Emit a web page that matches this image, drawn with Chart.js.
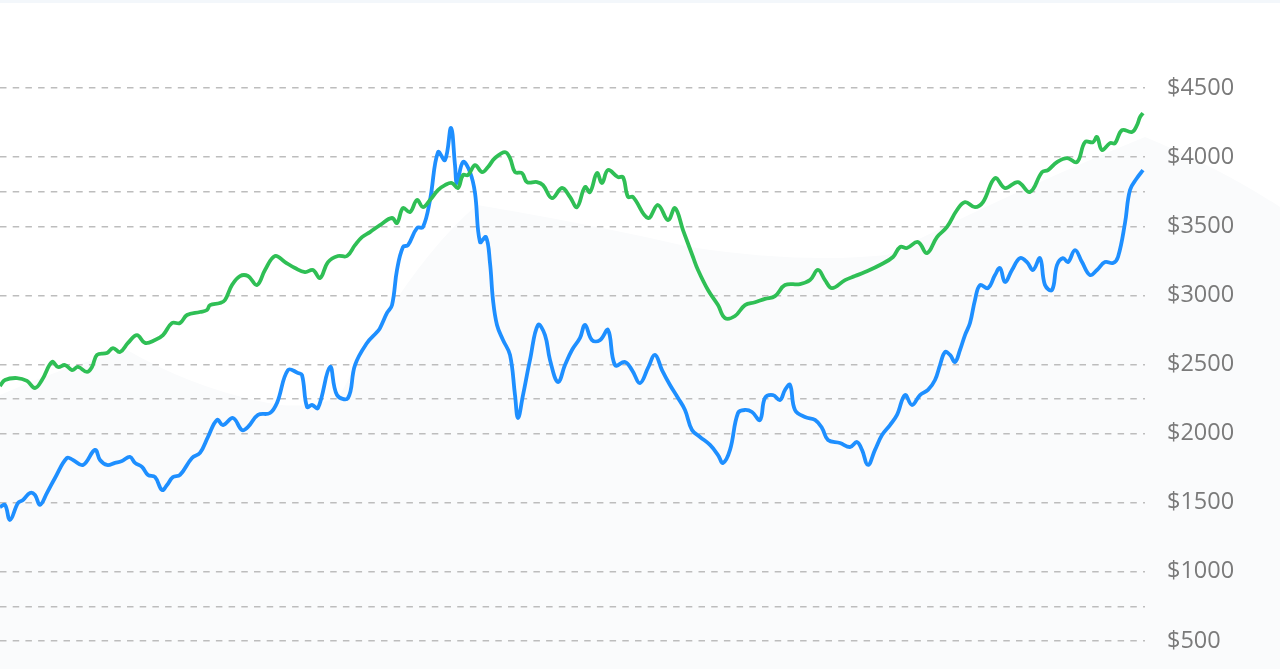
<!DOCTYPE html>
<html>
<head>
<meta charset="utf-8">
<script src="https://cdn.jsdelivr.net/npm/chart.js@4/dist/chart.umd.min.js"></script>
<style>
    html, body { margin: 0; padding: 0; background: #fff; overflow: hidden; }
    .topbar { position: absolute; left: 0; top: 0; width: 1280px; height: 3px; background: #f3f7fb; z-index: 2; }
    .backdrop { position: absolute; left: 0; top: 0; }
    .wrap { position: absolute; left: 0; top: 0; width: 1280px; height: 710px; }
</style>
</head>
<body>
<div class="topbar"></div>
<svg class="backdrop" width="1280" height="669">
    <path d="M0,395 Q60,368 127,350 Q200,392 280,405 Q320,408 340,395 Q410,262 477,205 Q590,224 690,247 Q800,264 887,255 Q1020,188 1145,137 Q1220,168 1280,207 L1280,669 L0,669 Z" fill="#fafbfc"/>
</svg>
<div class="wrap"><canvas id="priceChart"></canvas></div>
<script>
// trading day index and closing value
const greenDays = [0, 5, 17, 27, 35, 42, 52, 58, 65, 72, 78, 87, 92, 97, 107, 113, 120, 128, 137, 145, 155, 163, 172, 180, 187, 200, 207, 210, 220, 225,
    232, 240, 248, 257, 265, 275, 285, 295, 305, 313, 320, 328, 338, 347, 355, 362, 370, 380, 392, 397, 403, 410, 417, 423, 430, 438, 445, 452, 458,
    463, 468, 475, 482, 488, 495, 505, 510, 515, 522, 527, 537, 543, 552, 562, 570, 577, 585, 590, 597, 602, 608, 618, 623, 628, 633, 648, 658, 668,
    675, 683, 693, 698, 708, 718, 725, 735, 745, 755, 765, 775, 785, 800, 810, 818, 825, 832, 845, 855, 865, 880, 893, 900, 907, 918, 927, 937, 947,
    957, 965, 975, 983, 995, 1005, 1018, 1030, 1042, 1048, 1057, 1067, 1077, 1085, 1093, 1097, 1102, 1110, 1115, 1122, 1132, 1137, 1140, 1143];
const greenValues = [2345, 2388, 2402, 2381, 2330, 2388, 2518, 2482, 2496, 2460, 2482, 2446, 2482, 2569, 2583, 2619, 2590, 2656, 2713, 2656, 2677, 2713, 2800, 2800, 2858, 2880, 2894, 2930, 2945, 2967,
    3075, 3140, 3140, 3075, 3184, 3285, 3241, 3198, 3169, 3184, 3126, 3241, 3285, 3285, 3364, 3422, 3458, 3509, 3560, 3524, 3632, 3603, 3690, 3639, 3690, 3762, 3798, 3813, 3777,
    3871, 3871, 3943, 3892, 3929, 3994, 4037, 3994, 3892, 3885, 3820, 3820, 3798, 3704, 3777, 3712, 3639, 3784, 3748, 3885, 3813, 3907, 3856, 3856, 3712, 3712, 3560, 3654, 3545,
    3632, 3473, 3278, 3184, 3039, 2930, 2836, 2851, 2930, 2950, 2975, 2995, 3075, 3082, 3111, 3184, 3111, 3053, 3111, 3140, 3169, 3220, 3278, 3350, 3343, 3386, 3306, 3422, 3495,
    3618, 3675, 3639, 3675, 3849, 3777, 3820, 3748, 3892, 3907, 3965, 3994, 3965, 4109, 4109, 4146, 4052, 4102, 4102, 4196, 4182, 4232, 4290, 4319];

const blueDays = [0, 5, 10, 18, 23, 30, 35, 40, 47, 55, 67, 73, 83, 95, 100, 107, 115, 122, 130, 135, 142, 148, 155, 162, 167, 173, 180, 192, 200, 208,
    217, 223, 233, 242, 248, 258, 270, 277, 288, 298, 302, 307, 312, 318, 330, 337, 348, 355, 367, 377, 380, 387, 392, 397, 403, 408, 417, 423, 430,
    438, 445, 451, 455, 457, 463, 470, 475, 480, 486, 490, 493, 497, 503, 510, 515, 518, 523, 530, 538, 545, 550, 558, 565, 572, 580, 585, 592, 600,
    608, 615, 625, 632, 640, 648, 655, 662, 670, 678, 685, 692, 700, 710, 718, 723, 730, 738, 745, 752, 760, 765, 773, 780, 785, 790, 795, 805, 815,
    822, 828, 840, 850, 857, 862, 868, 875, 882, 890, 897, 905, 912, 920, 928, 935, 940, 945, 950, 955, 960, 965, 970, 975, 980, 988, 995, 1000,
    1005, 1012, 1020, 1027, 1033, 1040, 1045, 1052, 1057, 1063, 1068, 1075, 1082, 1090, 1097, 1105, 1113, 1118, 1125, 1130, 1137, 1143];
const blueValues = [1469, 1484, 1375, 1498, 1520, 1571, 1556, 1484, 1571, 1679, 1824, 1809, 1773, 1882, 1809, 1773, 1788, 1802, 1831, 1788, 1759, 1701, 1686, 1592, 1628, 1686, 1701, 1824, 1860, 1976,
    2099, 2062, 2113, 2026, 2048, 2135, 2149, 2222, 2460, 2439, 2424, 2193, 2207, 2185, 2482, 2279, 2258, 2496, 2656, 2735, 2764, 2873, 2930, 3184, 3350, 3364, 3487, 3495, 3690,
    4037, 3979, 4211, 3943, 3813, 3965, 3892, 3741, 3386, 3422, 3234, 2967, 2786, 2677, 2569, 2279, 2113, 2279, 2533, 2786, 2713, 2533, 2373, 2496, 2605, 2692, 2786, 2677, 2677,
    2750, 2496, 2518, 2460, 2366, 2475, 2569, 2460, 2352, 2258, 2171, 2026, 1976, 1918, 1845, 1788, 1882, 2149, 2171, 2156, 2099, 2258, 2279, 2243, 2316, 2352, 2171, 2120, 2099,
    2041, 1954, 1932, 1903, 1939, 1882, 1773, 1882, 1990, 2062, 2135, 2279, 2207, 2279, 2316, 2388, 2496, 2590, 2569, 2518, 2605, 2713, 2800, 2967, 3075, 3053, 3147, 3198,
    3097, 3184, 3270, 3241, 3184, 3270, 3075, 3039, 3220, 3270, 3241, 3328, 3241, 3147, 3184, 3241, 3234, 3278, 3524, 3762, 3849, 3907];

const axisLabels = [500, 1000, 1500, 2000, 2500, 3000, 3500, 4000, 4500];
const extraGridLines = [750, 2250, 3750];

const toPoints = (days, values) => days.map((d, i) => ({ x: d, y: values[i] }));

const ctx = document.getElementById('priceChart').getContext('2d');
new Chart(ctx, {
    type: 'line',
    data: {
        datasets: [
            {
                label: 'Green',
                data: toPoints(greenDays, greenValues),
                borderColor: '#2fbf55',
                borderWidth: 3.8,
                pointRadius: 0,
                tension: 0.4,
                fill: false
            },
            {
                label: 'Blue',
                data: toPoints(blueDays, blueValues),
                borderColor: '#1e8fff',
                borderWidth: 3.8,
                pointRadius: 0,
                tension: 0.4,
                fill: false
            }
        ]
    },
    options: {
        responsive: true,
        maintainAspectRatio: false,
        animation: false,
        layout: { padding: { top: 19, bottom: 0, left: 0, right: 0 } },
        plugins: {
            legend: { display: false },
            tooltip: { enabled: false }
        },
        scales: {
            x: {
                type: 'linear',
                display: false,
                min: 0,
                max: 1145
            },
            y: {
                position: 'right',
                min: 0,
                max: 5000,
                afterBuildTicks: (scale) => {
                    scale.ticks = axisLabels.concat(extraGridLines)
                        .sort((a, b) => a - b)
                        .map(v => ({ value: v }));
                },
                afterFit: (scale) => {
                    scale.width = 135;
                    scale.paddingTop = 0;
                    scale.paddingBottom = 0;
                },
                grid: {
                    color: '#bdbdbd',
                    lineWidth: 1.5,
                    drawTicks: false
                },
                border: { display: false, dash: [6.5, 6.2] },
                ticks: {
                    padding: 22,
                    color: '#7a7a7a',
                    font: { family: '"Open Sans", sans-serif', size: 23.5 },
                    callback: (v) => axisLabels.includes(v) ? '$' + v : ''
                }
            }
        }
    }
});
</script>
</body>
</html>
